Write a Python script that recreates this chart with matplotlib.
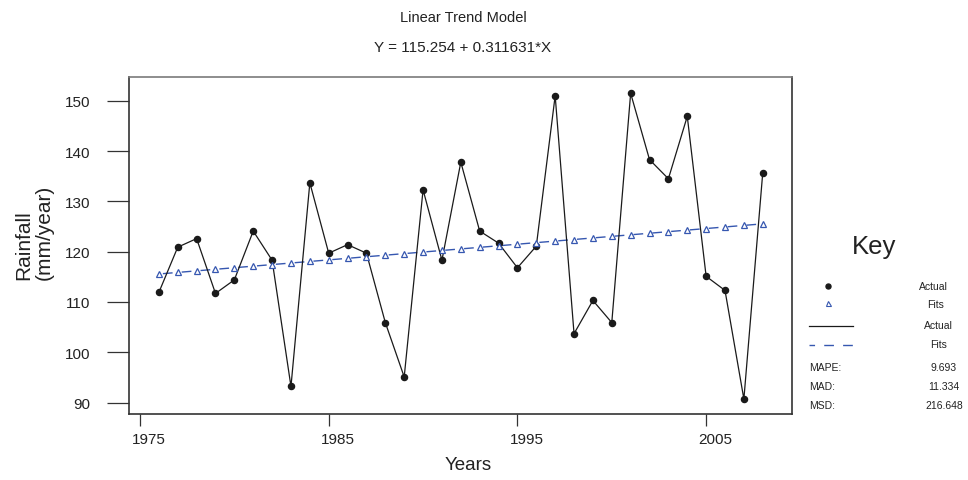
import matplotlib
matplotlib.use("Agg")
import matplotlib.pyplot as plt
import matplotlib.transforms as mtrans

# values
years = list(range(1976, 2009))
rainfall = [111.9, 120.9, 122.6, 111.7, 114.4, 124.1, 118.3, 93.2, 133.7, 119.7,
            121.4, 119.7, 105.9, 95.1, 132.3, 118.3, 137.8, 124.1, 121.7, 116.8,
            121.1, 151.0, 103.7, 110.3, 105.9, 151.5, 138.3, 134.5, 146.9, 115.1,
            112.3, 90.7, 135.7]
# fitted trend values (Y = 115.254 + 0.311631*X, X = 1..33)
fits = [115.566, 115.877, 116.189, 116.501, 116.812, 117.124, 117.435, 117.747,
        118.059, 118.370, 118.682, 118.994, 119.305, 119.617, 119.929, 120.240,
        120.552, 120.864, 121.175, 121.487, 121.798, 122.110, 122.422, 122.733,
        123.045, 123.357, 123.668, 123.980, 124.292, 124.603, 124.915, 125.226,
        125.538]
x_ticks = [1975, 1985, 1995, 2005]
y_ticks = [90, 100, 110, 120, 130, 140, 150]
acc_names = ["MAPE:", "MAD:", "MSD:"]
acc_values = ["9.693", "11.334", "216.648"]

plt.rcParams['font.family'] = ['Liberation Sans', 'DejaVu Sans']
txt = '#222222'
blue = '#3657b0'
fit_style = (10.7, (7.0, 6.6))

fig = plt.figure(figsize=(9.68, 4.81), dpi=100)
W, H = 968.0, 481.0
ax = fig.add_axes([129 / W, 66 / H, 663 / W, 337 / H])

ax.plot(years, fits, color=blue, lw=1.0, linestyle=fit_style, zorder=2)
ax.plot(years, fits, linestyle='none', marker='^', ms=4.2, mfc='white',
        mec=blue, mew=0.9, zorder=4)
ax.plot(years, rainfall, color='#1a1a1a', lw=0.9, marker='o', ms=4.4,
        mfc='#1a1a1a', mec='#1a1a1a', zorder=3)

ax.set_xlim(1974.417, 2009.55)
ax.set_ylim(87.73, 154.73)
ax.set_xticks(x_ticks)
ax.set_yticks(y_ticks)
ax.tick_params(axis='y', direction='out', length=15.8, width=0.9, pad=12,
               labelsize=11, colors='#333333', labelcolor=txt)
ax.tick_params(axis='x', direction='out', length=8.5, width=0.9, pad=4.5,
               labelsize=11, colors='#333333', labelcolor=txt)
for side in ['left', 'bottom', 'right']:
    ax.spines[side].set_color('#333333')
    ax.spines[side].set_linewidth(1.2)
ax.spines['top'].set_color('#7a7a7a')
ax.spines['top'].set_linewidth(1.2)

# minitab puts the year labels a little right of the tick
shift = mtrans.ScaledTranslation(9 / 100, 0, fig.dpi_scale_trans)
for lbl in ax.get_xticklabels():
    lbl.set_transform(lbl.get_transform() + shift)

fig.text(463 / W, 1 - 18 / H, "Linear Trend Model", ha='center', va='center',
         fontsize=10.5, color=txt)
fig.text(463 / W, 1 - 48 / H, "Y = 115.254 + 0.311631*X", ha='center',
         va='center', fontsize=11, color=txt)
fig.text(468 / W, 1 - 466 / H, "Years", ha='center', va='center',
         fontsize=13.5, color=txt)
fig.text(34 / W, 1 - 280 / H, "Rainfall\n(mm/year)", rotation=90, ha='center',
         va='bottom', multialignment='left', fontsize=15, linespacing=1.1,
         color=txt)

# key, drawn in pixel coordinates
kax = fig.add_axes([0, 0, 1, 1], facecolor='none')
kax.set_xlim(0, W)
kax.set_ylim(H, 0)
kax.axis('off')
kax.text(874, 254, "Key", ha='center', va='baseline', fontsize=18.5, color=txt)
kax.plot([828], [287], marker='o', ms=3.6, color='#1a1a1a', linestyle='none')
kax.plot([828], [304], marker='^', ms=3.6, mfc='white', mec=blue, mew=0.8,
         linestyle='none')
kax.plot([809, 853], [327, 327], color='#1a1a1a', lw=0.9)
kax.plot([809, 853], [346, 346], color=blue, lw=1.0, linestyle=(3, (7.0, 6.6)))
kax.text(933, 287, "Actual", ha='center', va='center', fontsize=7.5, color=txt)
kax.text(936, 305, "Fits", ha='center', va='center', fontsize=7.5, color=txt)
kax.text(938, 326, "Actual", ha='center', va='center', fontsize=7.5, color=txt)
kax.text(939, 345, "Fits", ha='center', va='center', fontsize=7.5, color=txt)
for i, (name, val) in enumerate(zip(acc_names, acc_values)):
    yy = 368 + 19 * i
    kax.text(809, yy, name, ha='left', va='center', fontsize=7.5, color=txt)
    kax.text(944, yy, val, ha='center', va='center', fontsize=7.5, color=txt)

fig.savefig("out.png", dpi=100)
